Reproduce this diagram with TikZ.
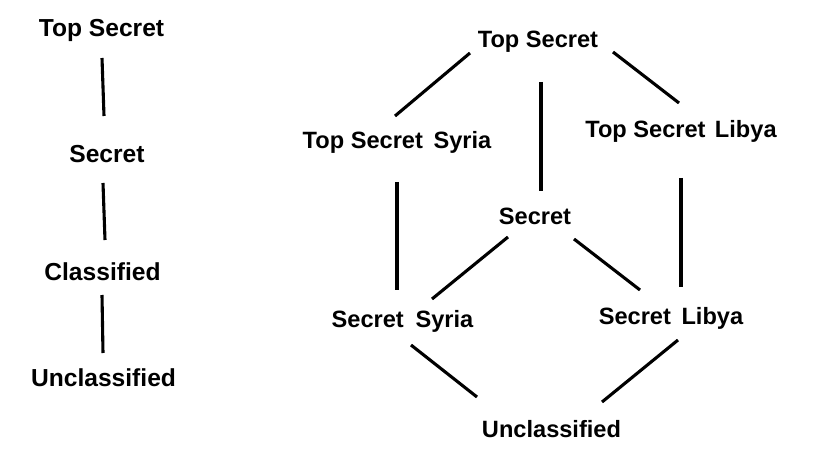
\documentclass[tikz,border=0pt]{standalone}
\usepackage{fontspec}
\setmainfont{Liberation Sans}
\usetikzlibrary{calc}
\begin{document}
\begin{tikzpicture}[x=1pt,y=-1pt,
  lbl/.style={anchor=base,inner sep=0pt,font=\fontsize{24.6}{28}\selectfont\bfseries},
  lblr/.style={anchor=base,inner sep=0pt,font=\fontsize{23.6}{28}\selectfont\bfseries},
  edge/.style={line width=3.1pt,black}]
\useasboundingbox[fill=white] (0,0) rectangle (827,457);
% left chain
\node[lbl] (l1) at (101.5,37) {Top Secret};
\node[lbl] (l2) at (107,163) {Secret};
\node[lbl] (l3) at (102.5,280) {Classified};
\node[lbl] (l4) at (103.5,386) {Unclassified};
\draw[edge] ($(l1.base)+(0.5,21)$) -- ($(l2.base)+(-3,-47)$);
\draw[edge] ($(l2.base)+(-4,20)$) -- ($(l3.base)+(2.5,-40)$);
\draw[edge] ($(l3.base)+(-0.5,15)$) -- ($(l4.base)+(-0.5,-33)$);
% right lattice
\node[lblr] (ts) at (538,48) {Top Secret};
\node[lblr] (tss) at (397,149) {Top Secret\hspace{0.45em}Syria};
\node[lblr] (tsl) at (681,138) {Top Secret\hspace{0.4em}Libya};
\node[lblr] (s) at (535,225) {Secret};
\node[lblr] (ss) at (402.5,327) {Secret\hspace{0.5em}Syria};
\node[lblr] (sl) at (671,324) {Secret\hspace{0.45em}Libya};
\node[lblr] (u) at (551.5,437) {Unclassified};
\draw[edge] ($(ts.base)+(-68,5)$) -- ($(tss.base)+(-2,-33)$);
\draw[edge] ($(ts.base)+(75,4)$) -- ($(tsl.base)+(-2,-35)$);
\draw[edge] ($(ts.base)+(3,34)$) -- ($(s.base)+(6,-34)$);
\draw[edge] ($(tss.base)+(0,33)$) -- ($(ss.base)+(-5.5,-37)$);
\draw[edge] ($(tsl.base)+(0,40)$) -- ($(sl.base)+(10,-37)$);
\draw[edge] ($(s.base)+(-27,12)$) -- ($(ss.base)+(29.5,-28)$);
\draw[edge] ($(s.base)+(39,14)$) -- ($(sl.base)+(-31,-34)$);
\draw[edge] ($(ss.base)+(8.5,18)$) -- ($(u.base)+(-74.5,-40)$);
\draw[edge] ($(sl.base)+(7,16)$) -- ($(u.base)+(50.5,-35)$);
\end{tikzpicture}
\end{document}
